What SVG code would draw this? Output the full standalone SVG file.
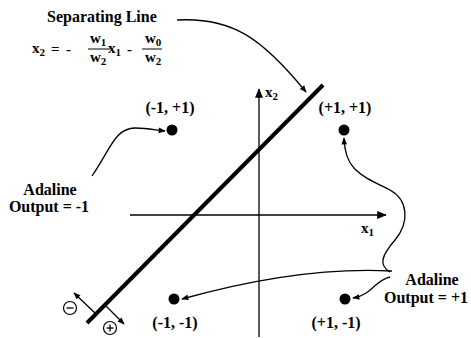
<svg xmlns="http://www.w3.org/2000/svg" width="471" height="338" viewBox="0 0 471 338">
<defs>
<style>
.t{font-family:"Liberation Serif","Times New Roman",serif;font-weight:bold;fill:#000}
.lbl{font-size:16px}
.eq{font-size:15px}
.sub{font-size:11px}
.c{fill:none;stroke:#000;stroke-width:1.3}
.ax{fill:none;stroke:#000;stroke-width:1.3}
.dot{fill:#000}
</style>
<marker id="ah" viewBox="0 0 10 10" refX="9" refY="5" markerWidth="10" markerHeight="7" markerUnits="userSpaceOnUse" orient="auto">
<path d="M0,1 L10,5 L0,9 z" fill="#000"/>
</marker>
<marker id="ah2" viewBox="0 0 12 10" refX="11" refY="5" markerWidth="12" markerHeight="8" markerUnits="userSpaceOnUse" orient="auto">
<path d="M0,0 L12,5 L0,10 z" fill="#000"/>
</marker>
</defs>
<rect width="471" height="338" fill="#fff"/>

<g id="axes">
<line class="ax" x1="130" y1="215" x2="386" y2="215" marker-end="url(#ah2)"/>
<line class="ax" x1="259" y1="337" x2="259" y2="89" marker-end="url(#ah2)"/>
<text class="t eq" x="265" y="97">x<tspan class="sub" dy="3">2</tspan></text>
<text class="t eq" x="361" y="233">x<tspan class="sub" dy="3">1</tspan></text>
</g>

<g id="separating-line">
<line x1="87" y1="323" x2="323" y2="85" stroke="#000" stroke-width="4"/>
<line class="ax" x1="95" y1="313" x2="74" y2="293" marker-end="url(#ah)"/>
<line class="ax" x1="104" y1="304" x2="124" y2="324" marker-end="url(#ah)"/>
<circle cx="70" cy="308" r="6.5" fill="none" stroke="#000" stroke-width="1.2"/>
<line x1="66.5" y1="308" x2="73.5" y2="308" stroke="#000" stroke-width="1.3"/>
<circle cx="110" cy="328" r="6.5" fill="none" stroke="#000" stroke-width="1.2"/>
<line x1="106.5" y1="328" x2="113.5" y2="328" stroke="#000" stroke-width="1.3"/>
<line x1="110" y1="324.5" x2="110" y2="331.5" stroke="#000" stroke-width="1.3"/>
</g>

<g id="title">
<text class="t lbl" x="47" y="22">Separating Line</text>
<text class="t eq" x="32" y="53">x<tspan class="sub" dy="3">2</tspan></text>
<text class="t eq" x="51" y="54">=</text>
<text class="t eq" x="66" y="54">-</text>
<text class="t eq" x="90" y="43">w<tspan class="sub" dy="3">1</tspan></text>
<line x1="88" y1="49" x2="110" y2="49" stroke="#000" stroke-width="1"/>
<text class="t eq" x="90" y="62">w<tspan class="sub" dy="3">2</tspan></text>
<text class="t eq" x="108" y="53">x<tspan class="sub" dy="3">1</tspan></text>
<text class="t eq" x="127" y="54">-</text>
<text class="t eq" x="145" y="43">w<tspan class="sub" dy="3">0</tspan></text>
<line x1="142" y1="49" x2="162" y2="49" stroke="#000" stroke-width="1"/>
<text class="t eq" x="145" y="62">w<tspan class="sub" dy="3">2</tspan></text>
</g>

<g id="p-m1-p1">
<circle class="dot" cx="172" cy="130" r="5.5"/>
<text class="t lbl" x="170" y="113" text-anchor="middle">(-1, +1)</text>
</g>
<g id="p-p1-p1">
<circle class="dot" cx="344" cy="130" r="5.5"/>
<text class="t lbl" x="345" y="113" text-anchor="middle">(+1, +1)</text>
</g>
<g id="p-m1-m1">
<circle class="dot" cx="174" cy="299" r="5.5"/>
<text class="t lbl" x="175" y="328" text-anchor="middle">(-1, -1)</text>
</g>
<g id="p-p1-m1">
<circle class="dot" cx="345" cy="299" r="5.5"/>
<text class="t lbl" x="336" y="328" text-anchor="middle">(+1, -1)</text>
</g>

<g id="adaline-neg">
<text class="t lbl" x="50" y="195" text-anchor="middle">Adaline</text>
<text class="t lbl" x="49" y="212" text-anchor="middle">Output = -1</text>
</g>
<g id="adaline-pos">
<text class="t lbl" x="432" y="285" text-anchor="middle">Adaline</text>
<text class="t lbl" x="426" y="303" text-anchor="middle">Output = +1</text>
</g>

<g id="connectors">
<path class="c" d="M177,20 C232,17 262,38 306,92" marker-end="url(#ah)"/>
<path class="c" d="M92,176 C110,150 115,128 135,128 C148,128 155,130 165,131" marker-end="url(#ah)"/>
<path class="c" d="M390,272 C378,265 382,255 395,240 C410,222 408,200 390,190 C360,175 345,170 344,138" marker-end="url(#ah)"/>
<path class="c" d="M392,271 Q300,266 182,299" marker-end="url(#ah)"/>
<path class="c" d="M390,277 C375,280 372,295 353,298" marker-end="url(#ah)"/>
</g>
</svg>
